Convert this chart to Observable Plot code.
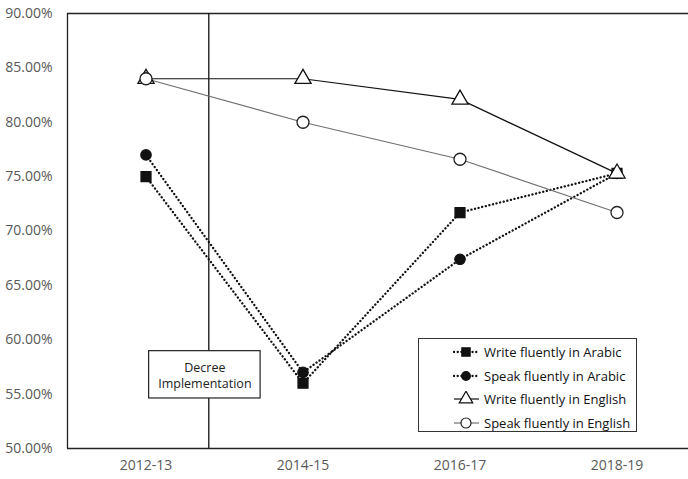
<!DOCTYPE html>
<html>
<head>
<meta charset="utf-8">
<script src="https://cdn.jsdelivr.net/npm/d3@7"></script>
<script src="https://cdn.jsdelivr.net/npm/@observablehq/plot@0.6"></script>
<style>
  body { margin: 0; background: #fff; }
  #wrap { position: relative; width: 688px; height: 479px; font-family: "Open Sans", sans-serif; }
  #legend { position: absolute; left: 418px; top: 338px; width: 217px; height: 92px; border: 1px solid #333; background: #fff; box-sizing: content-box; }
  .row { position: absolute; left: 32px; height: 20px; display: flex; align-items: center; font-size: 13px; color: #111; white-space: nowrap; }
  .row svg { margin-right: 3px; flex: none; }
</style>
</head>
<body>
<div id="wrap"><div id="chart"></div><div id="legend"></div></div>
<script>
const years = ["2012-13", "2014-15", "2016-17", "2018-19"];
const writeArabic = [75.0, 56.0, 71.7, 75.3];
const speakArabic = [77.0, 57.0, 67.4, 75.3];
const writeEnglish = [84.0, 84.0, 82.1, 75.3];
const speakEnglish = [84.0, 80.0, 76.6, 71.7];
const seriesNames = ["Write fluently in Arabic", "Speak fluently in Arabic", "Write fluently in English", "Speak fluently in English"];
const yTicks = [50, 55, 60, 65, 70, 75, 80, 85, 90];
// annotation: decree line between 2012-13 and 2014-15 (index units)
const decreeX = [0.4];
const decreeBox = [{x1: 0.02, x2: 0.73, y1: 54.6, y2: 58.95}];
const decreeText = ["Decree", "Implementation"];

const styles = [
  {symbol: "square", fill: "#111", stroke: "#111", r: 5.6, line: "#111", dash: "0.1,3.6", sw: 2.3, lc: "round"},
  {symbol: "circle", fill: "#111", stroke: "#111", r: 5.2, line: "#111", dash: "0.1,3.6", sw: 2.3, lc: "round"},
  {symbol: "triangle", fill: "#fff", stroke: "#111", r: 6, line: "#111", dash: null, sw: 1.2, lc: "butt"},
  {symbol: "circle", fill: "#fff", stroke: "#222", r: 6, line: "#707070", dash: null, sw: 1.2, lc: "butt"}
];
const allSeries = [writeArabic, speakArabic, writeEnglish, speakEnglish];
const data = allSeries.map((vals, s) => vals.map((v, i) => ({i, v, s})));

const marks = [
  Plot.ruleY([50, 90], {stroke: "#222", strokeWidth: 1.3}),
  Plot.ruleX([-0.5], {stroke: "#222", strokeWidth: 1.3}),
  Plot.ruleX(decreeX, {stroke: "#111", strokeWidth: 1.3})
];
data.forEach((d, s) => {
  const st = styles[s];
  marks.push(Plot.line(d, {x: "i", y: "v", stroke: st.line, strokeWidth: st.sw, strokeDasharray: st.dash, strokeLinecap: st.lc}));
});
data.forEach((d, s) => {
  const st = styles[s];
  marks.push(Plot.dot(d, {x: "i", y: "v", symbol: () => st.symbol, r: st.r, fill: st.fill, stroke: st.stroke, strokeWidth: 1.3}));
});
marks.push(Plot.rect(decreeBox, {x1: "x1", x2: "x2", y1: "y1", y2: "y2", fill: "#fff", stroke: "#222", strokeWidth: 1.2}));
marks.push(Plot.text([decreeText.join("\n")], {
  x: d => (decreeBox[0].x1 + decreeBox[0].x2) / 2,
  y: d => (decreeBox[0].y1 + decreeBox[0].y2) / 2,
  text: d => d, fontSize: 12.5, fill: "#222", lineHeight: 1.3
}));
marks.push(Plot.axisY({ticks: yTicks, tickSize: 0, tickPadding: 15, tickFormat: d => d.toFixed(2) + "%", fontSize: 14, color: "#595959"}));
marks.push(Plot.axisX({ticks: [0, 1, 2, 3], tickSize: 0, tickPadding: 12, tickFormat: i => years[i], fontSize: 14, color: "#595959"}));

const chart = Plot.plot({
  width: 688, height: 479,
  marginLeft: 67, marginRight: 0, marginTop: 13, marginBottom: 31,
  style: {fontFamily: "'Open Sans', sans-serif", background: "#fff"},
  x: {domain: [-0.5, 3.5], range: [67, 695]},
  y: {domain: [50, 90], range: [448, 13]},
  symbol: {type: "identity"},
  marks
});
document.getElementById("chart").appendChild(chart);

const legend = document.getElementById("legend");
const ns = "http://www.w3.org/2000/svg";
seriesNames.forEach((name, s) => {
  const st = styles[s];
  const row = document.createElement("div");
  row.className = "row";
  row.style.top = (3 + s * 23.5) + "px";
  const svg = document.createElementNS(ns, "svg");
  svg.setAttribute("width", 30); svg.setAttribute("height", 16);
  const ln = document.createElementNS(ns, "line");
  ln.setAttribute("x1", 3); ln.setAttribute("x2", 28); ln.setAttribute("y1", 8); ln.setAttribute("y2", 8);
  ln.setAttribute("stroke", st.line); ln.setAttribute("stroke-width", st.sw);
  if (st.dash) { ln.setAttribute("stroke-dasharray", st.dash); ln.setAttribute("stroke-linecap", "round"); }
  svg.appendChild(ln);
  const sym = {square: d3.symbolSquare, circle: d3.symbolCircle, triangle: d3.symbolTriangle}[st.symbol];
  const p = document.createElementNS(ns, "path");
  p.setAttribute("d", d3.symbol(sym, Math.PI * st.r * st.r * 0.7)());
  p.setAttribute("transform", "translate(15,8)");
  p.setAttribute("fill", st.fill); p.setAttribute("stroke", st.stroke); p.setAttribute("stroke-width", 1.2);
  svg.appendChild(p);
  row.appendChild(svg);
  const t = document.createElement("span");
  t.textContent = name;
  row.appendChild(t);
  legend.appendChild(row);
});
</script>
</body>
</html>
